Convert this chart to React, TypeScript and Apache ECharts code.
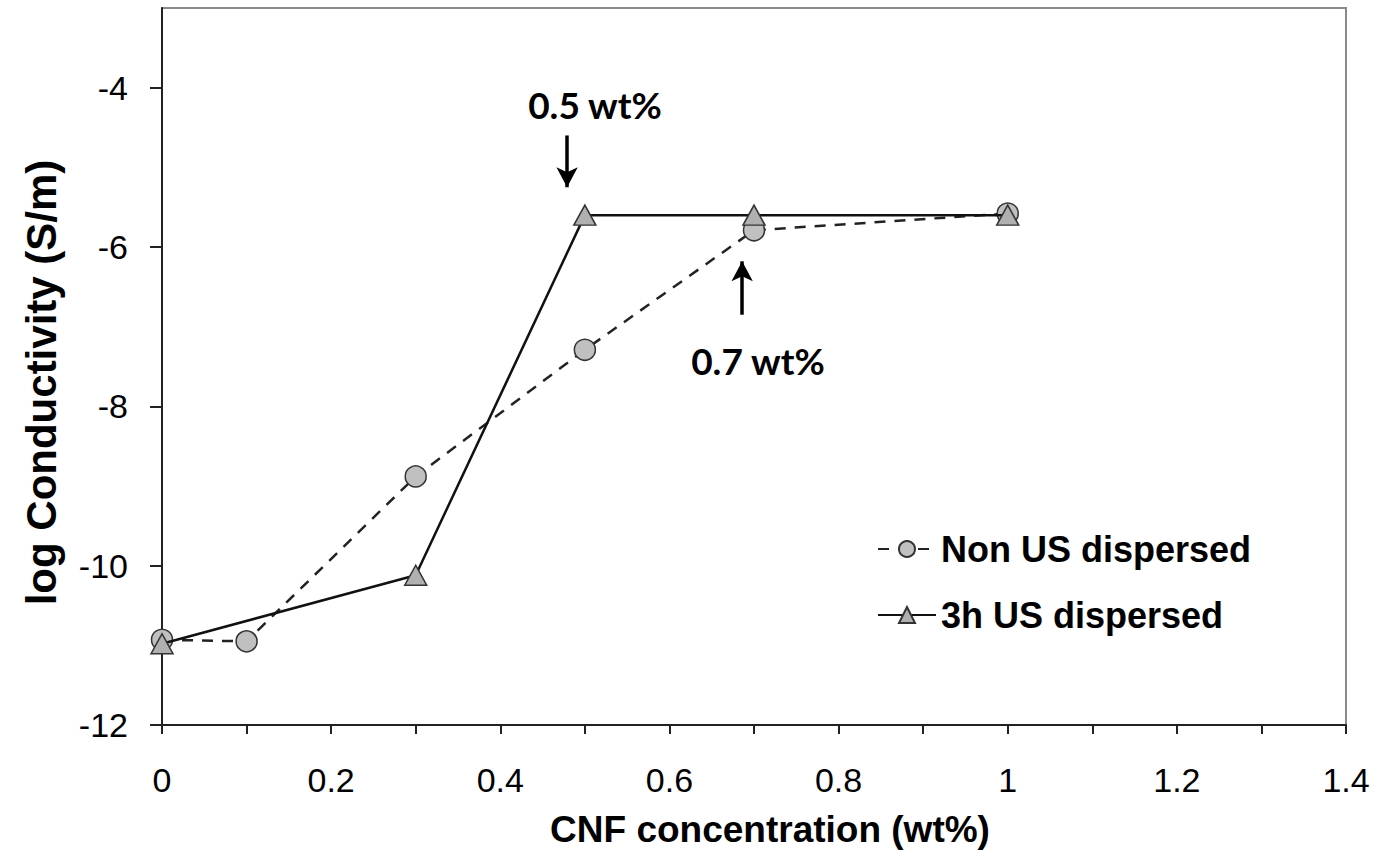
import React, { useEffect, useRef } from 'react';
import * as echarts from 'echarts';

// Data
const nonUsX = [0, 0.1, 0.3, 0.5, 0.7, 1.0];
const nonUsY = [-10.93, -10.95, -8.88, -7.29, -5.79, -5.58];
const usX = [0, 0.3, 0.5, 0.7, 1.0];
const usY = [-10.98, -10.12, -5.6, -5.6, -5.6];
const seriesNames = ['Non US dispersed', '3h US dispersed'];

const xTickValues = [0, 0.1, 0.2, 0.3, 0.4, 0.5, 0.6, 0.7, 0.8, 0.9, 1.0, 1.1, 1.2, 1.3, 1.4];
const xLabelValues = [0, 0.2, 0.4, 0.6, 0.8, 1.0, 1.2, 1.4];
const yTickValues = [-12, -10, -8, -6, -4];

const xTitle = 'CNF concentration (wt%)';
const yTitle = 'log Conductivity (S/m)';

// Annotation arrows (in data coordinates) and texts
const arrowX = [0.479, 0.686];
const arrowFrom = [-4.6, -6.85];
const arrowTo = [-5.25, -6.18];
const annotationTexts = ['0.5 wt%', '0.7 wt%'];

export default function App() {
  const ref = useRef<HTMLDivElement>(null);
  useEffect(() => {
    if (!ref.current) return;
    const chart = echarts.init(ref.current, undefined, { renderer: 'svg' });
    const fmt = (v: number) => String(Math.round(v * 10) / 10);
    chart.setOption({
      animation: false,
      backgroundColor: '#ffffff',
      grid: {
        left: 162,
        top: 8,
        right: 33,
        bottom: 134,
        show: true,
        borderColor: '#8a8a8a',
        borderWidth: 2,
        backgroundColor: 'transparent',
      },
      legend: {
        orient: 'vertical',
        left: 872,
        top: 526,
        itemWidth: 58,
        itemHeight: 20,
        itemGap: 30,
        textStyle: {
          fontFamily: 'Liberation Sans, Arial, sans-serif',
          fontWeight: 'bold',
          fontSize: 36,
          color: '#000',
        },
        data: seriesNames,
      },
      xAxis: {
        type: 'value',
        min: 0,
        max: 1.4,
        interval: 0.1,
        name: xTitle,
        nameLocation: 'middle',
        nameGap: 86,
        nameTextStyle: {
          fontFamily: 'Liberation Sans, Arial, sans-serif',
          fontWeight: 'bold',
          fontSize: 37,
          color: '#000',
          padding: [0, 0, 0, 32],
        },
        axisLine: { show: true, onZero: false, lineStyle: { color: '#222', width: 2 } },
        axisTick: {
          show: true,
          inside: false,
          length: 9,
          customValues: xTickValues,
          lineStyle: { color: '#222', width: 2 },
        },
        axisLabel: {
          customValues: xLabelValues,
          formatter: fmt,
          margin: 38,
          fontFamily: 'Liberation Sans, Arial, sans-serif',
          fontSize: 34,
          color: '#000',
        },
        splitLine: { show: false },
      },
      yAxis: {
        type: 'value',
        min: -12,
        max: -3,
        interval: 1,
        name: yTitle,
        nameLocation: 'middle',
        nameGap: 100,
        nameTextStyle: {
          fontFamily: 'Liberation Sans, Arial, sans-serif',
          fontWeight: 'bold',
          fontSize: 42,
          color: '#000',
          padding: [0, 32, 0, 0],
        },
        axisLine: { show: true, onZero: false, lineStyle: { color: '#222', width: 2 } },
        axisTick: {
          show: true,
          inside: false,
          length: 12,
          customValues: yTickValues,
          lineStyle: { color: '#222', width: 2 },
        },
        axisLabel: {
          customValues: yTickValues,
          margin: 34,
          fontFamily: 'Liberation Sans, Arial, sans-serif',
          fontSize: 34,
          color: '#000',
        },
        splitLine: { show: false },
      },
      series: [
        {
          name: seriesNames[0],
          type: 'line',
          data: nonUsX.map((x, i) => [x, nonUsY[i]]),
          symbol: 'circle',
          symbolSize: 21,
          z: 2,
          itemStyle: { color: '#c0c0c0', borderColor: '#333', borderWidth: 1.5 },
          lineStyle: { color: '#222', width: 2.5, type: [11, 9] },
        },
        {
          name: seriesNames[1],
          type: 'line',
          data: usX.map((x, i) => [x, usY[i]]),
          symbol: 'triangle',
          symbolSize: [22, 20],
          z: 3,
          itemStyle: { color: '#b0b0b0', borderColor: '#333', borderWidth: 1.5 },
          lineStyle: { color: '#111', width: 2.5, type: 'solid' },
          markLine: {
            silent: true,
            symbol: ['none', 'arrow'],
            symbolSize: [16, 20],
            label: { show: false },
            lineStyle: { color: '#000', width: 3.5, type: 'solid' },
            data: arrowX.map((x, i) => [
              { coord: [x, arrowFrom[i]] },
              { coord: [x, arrowTo[i]] },
            ]),
          },
        },
      ],
      graphic: [
        {
          type: 'text',
          x: 595,
          y: 104,
          style: {
            text: annotationTexts[0],
            fontFamily: 'Lato, Open Sans, sans-serif',
            fontWeight: 'bold',
            fontSize: 37,
            fill: '#000',
            align: 'center',
            verticalAlign: 'middle',
          },
        },
        {
          type: 'text',
          x: 758,
          y: 360,
          style: {
            text: annotationTexts[1],
            fontFamily: 'Lato, Open Sans, sans-serif',
            fontWeight: 'bold',
            fontSize: 37,
            fill: '#000',
            align: 'center',
            verticalAlign: 'middle',
          },
        },
      ],
    });
    return () => chart.dispose();
  }, []);
  return (
    <div
      ref={ref}
      style={{ position: 'fixed', left: 0, top: 0, width: '1379px', height: '859px', background: '#fff' }}
    />
  );
}
